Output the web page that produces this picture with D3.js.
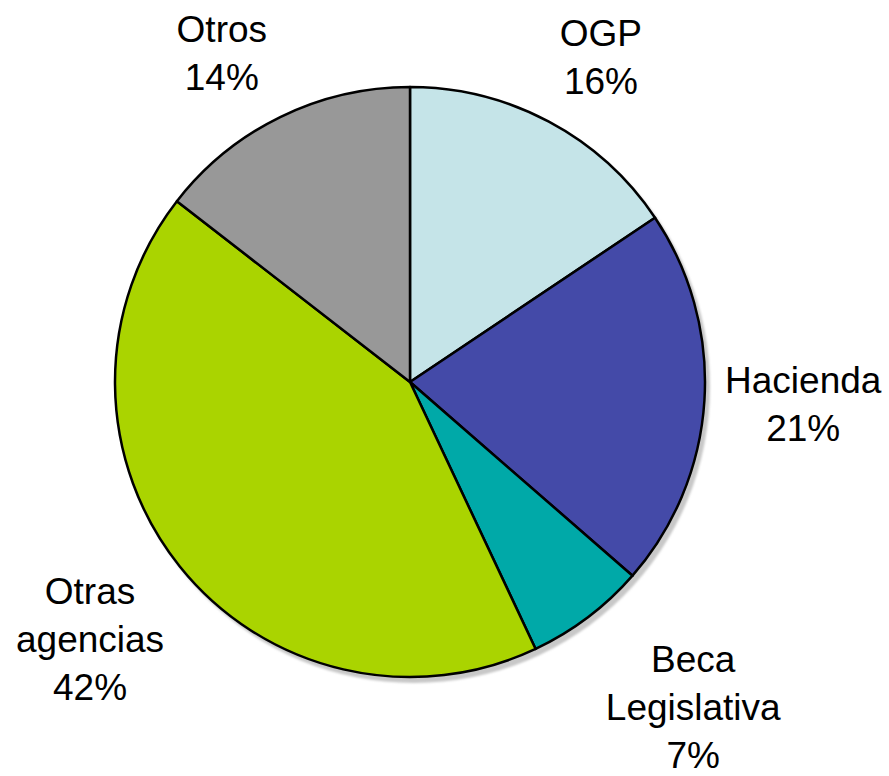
<!DOCTYPE html>
<html>
<head>
<meta charset="utf-8">
<script src="https://cdn.jsdelivr.net/npm/d3@7"></script>
<style>
  body { margin: 0; background: #fff; }
  svg { display: block; }
  text { font-family: "Liberation Sans", Arial, Helvetica, sans-serif; fill: #000; }
</style>
</head>
<body>
<svg width="889" height="776"></svg>
<script>
// slices, clockwise from 12 o'clock
const categories = ['OGP', 'Hacienda', 'Beca Legislativa', 'Otras agencias', 'Otros']
const values = [15.6, 20.8, 6.6, 42.5, 14.5]
const pctLabels = ['16%', '21%', '7%', '42%', '14%']
const labelLines = [['OGP'], ['Hacienda'], ['Beca', 'Legislativa'], ['Otras', 'agencias'], ['Otros']]
const colors = ['#c5e4e8', '#444aa8', '#00a9a8', '#aad400', '#989898']

const svg = d3.select('svg')
const cx = 410, cy = 382, radius = 295
// distance of each label block from the centre, plus a small nudge
const labelR = [378, 394, 425, 410, 380]
const labelNudge = [[13, 8], [0, -3], [27, -14], [0, 0], [-21, 12]]
const lineH = 48

const pie = d3.pie().sort(null).value(d => d)
const arcs = pie(values)
const arc = d3.arc().innerRadius(0).outerRadius(radius)

const defs = svg.append('defs')
defs.append('filter').attr('id', 'blur')
  .append('feGaussianBlur').attr('stdDeviation', 1.2)

const g = svg.append('g').attr('transform', 'translate(' + cx + ',' + cy + ')')

// drop shadow behind the pie
g.append('circle')
  .attr('cx', 4).attr('cy', 5)
  .attr('r', radius + 1)
  .attr('fill', '#c8c8c8')
  .attr('filter', 'url(#blur)')

g.selectAll('path.slice')
  .data(arcs)
  .enter().append('path')
    .attr('class', 'slice')
    .attr('d', arc)
    .attr('fill', (d, i) => colors[i])
    .attr('stroke', '#000')
    .attr('stroke-width', 2.5)
    .attr('stroke-linejoin', 'round')

const labels = g.selectAll('g.label')
  .data(arcs)
  .enter().append('g')
    .attr('class', 'label')
    .attr('transform', (d, i) => {
      const a = (d.startAngle + d.endAngle) / 2
      const x = Math.sin(a) * labelR[i] + labelNudge[i][0]
      const y = -Math.cos(a) * labelR[i] + labelNudge[i][1]
      return 'translate(' + x + ',' + y + ')'
    })

labels.each(function (d, i) {
  const lines = labelLines[i].concat([pctLabels[i]])
  const n = lines.length
  d3.select(this).selectAll('text')
    .data(lines)
    .enter().append('text')
      .attr('text-anchor', 'middle')
      .attr('font-size', 37)
      .attr('y', (t, k) => (k - (n - 1) / 2) * lineH)
      .attr('dy', '0.36em')
      .text(t => t)
})
</script>
</body>
</html>
